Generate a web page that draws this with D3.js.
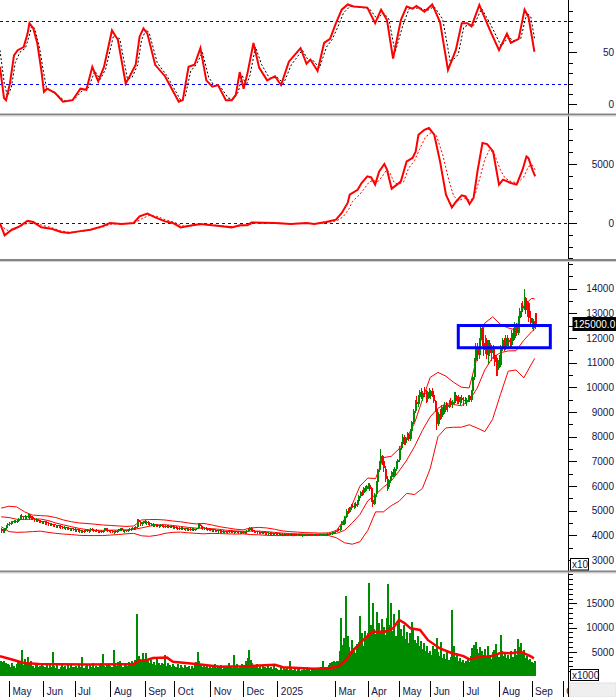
<!DOCTYPE html>
<html><head><meta charset="utf-8">
<script src="https://cdn.jsdelivr.net/npm/d3@7"></script>
<style>
html,body{margin:0;padding:0;background:#fff;}
svg{display:block;font-family:"Liberation Sans",Arial,sans-serif;}
</style></head><body>
<svg id="chart" width="616" height="697"></svg>
<script>
// ---------------- DATA ----------------
const firstDay = -5; // trading-day index of the first candle (May 2024 first session = 0)
const monthStarts = [0,22,42,65,87,106,129,150,172,209,230,250,270,291,314,335,355];
const monthLabels = ["May","Jun","Jul","Aug","Sep","Oct","Nov","Dec","2025","Mar","Apr","May","Jun","Jul","Aug","Sep","Oct"];

// [open, high, low, close] (axis units, x10)
const candles = [
[4250,4300,4150,4180],[4180,4250,4120,4150],[4150,4300,4140,4280],[4280,4420,4260,4400],[4400,4480,4380,4450],
[4450,4520,4420,4500],[4500,4560,4470,4540],[4540,4600,4500,4560],[4560,4620,4530,4580],[4580,4640,4550,4600],[4600,4620,4550,4580],[4580,4700,4570,4680],[4680,4820,4660,4800],[4800,4850,4720,4750],[4750,4800,4700,4780],[4780,4830,4720,4740],[4740,4800,4700,4790],[4790,4860,4760,4820],[4820,4850,4680,4700],[4700,4780,4680,4760],[4760,4800,4660,4680],[4680,4720,4600,4620],[4620,4700,4600,4660],[4660,4680,4560,4580],[4580,4640,4540,4600],[4600,4620,4520,4540],[4540,4600,4500,4560],
[4560,4600,4480,4500],[4500,4560,4470,4540],[4540,4560,4460,4480],[4480,4520,4420,4440],[4440,4500,4420,4470],[4470,4490,4400,4420],[4420,4460,4380,4440],[4440,4460,4360,4380],[4380,4420,4340,4400],[4400,4420,4330,4350],[4350,4400,4320,4380],[4380,4400,4310,4330],[4330,4370,4290,4310],[4310,4360,4280,4340],[4340,4350,4270,4290],[4290,4330,4250,4300],[4300,4320,4240,4260],[4260,4300,4230,4280],[4280,4300,4220,4240],[4240,4280,4200,4260],
[4260,4280,4190,4200],[4200,4260,4180,4240],[4240,4260,4170,4180],[4180,4220,4150,4200],[4200,4220,4140,4160],[4160,4200,4130,4190],[4190,4210,4150,4170],[4170,4230,4160,4220],[4220,4240,4170,4180],[4180,4210,4140,4200],[4200,4280,4190,4260],[4260,4280,4200,4210],[4210,4240,4170,4190],[4190,4230,4160,4220],[4220,4240,4180,4190],[4190,4200,4130,4150],[4150,4190,4120,4180],[4180,4200,4140,4160],[4160,4210,4150,4200],[4200,4300,4190,4280],[4280,4300,4200,4220],[4220,4250,4170,4190],[4190,4230,4160,4210],
[4210,4230,4150,4170],[4170,4200,4120,4140],[4140,4180,4100,4160],[4160,4200,4140,4190],[4190,4220,4150,4170],[4170,4250,4160,4240],[4240,4300,4220,4280],[4280,4290,4200,4210],[4210,4240,4160,4180],[4180,4220,4150,4200],[4200,4230,4170,4190],[4190,4240,4180,4230],[4230,4280,4210,4250],[4250,4300,4230,4280],[4280,4320,4250,4300],[4300,4340,4260,4280],[4280,4360,4270,4340],[4340,4660,4330,4620],[4620,4660,4500,4520],[4520,4560,4420,4450],[4450,4520,4430,4500],[4500,4600,4480,4580],
[4580,4620,4500,4520],[4520,4560,4470,4540],[4540,4560,4460,4480],[4480,4520,4420,4440],[4440,4480,4400,4460],[4460,4480,4390,4410],[4410,4460,4390,4440],[4440,4460,4380,4400],[4400,4430,4360,4380],[4380,4420,4350,4400],[4400,4440,4380,4420],[4420,4440,4360,4380],[4380,4410,4340,4360],[4360,4400,4340,4390],[4390,4410,4350,4370],[4370,4400,4330,4350],[4350,4390,4320,4380],[4380,4400,4340,4360],[4360,4380,4300,4320],
[4320,4360,4290,4340],[4340,4360,4280,4300],[4300,4330,4260,4280],[4280,4320,4260,4310],[4310,4330,4270,4290],[4290,4320,4250,4300],[4300,4310,4240,4260],[4260,4300,4230,4280],[4280,4300,4230,4250],[4250,4290,4220,4270],[4270,4290,4220,4240],[4240,4280,4210,4260],[4260,4280,4210,4230],[4230,4270,4200,4250],[4250,4300,4240,4290],[4290,4510,4280,4460],[4460,4480,4350,4370],[4370,4400,4300,4320],[4320,4350,4270,4290],[4290,4330,4260,4310],[4310,4320,4250,4270],[4270,4300,4230,4250],[4250,4290,4220,4270],
[4270,4280,4200,4220],[4220,4260,4190,4240],[4240,4250,4180,4200],[4200,4240,4170,4220],[4220,4230,4160,4180],[4180,4220,4150,4200],[4200,4220,4150,4170],[4170,4210,4140,4190],[4190,4200,4130,4150],[4150,4190,4120,4170],[4170,4190,4120,4140],[4140,4180,4110,4160],[4160,4200,4140,4190],[4190,4210,4140,4160],[4160,4190,4120,4140],[4140,4180,4110,4170],[4170,4190,4130,4150],[4150,4180,4120,4160],[4160,4180,4110,4130],[4130,4170,4100,4150],[4150,4170,4110,4130],
[4130,4160,4100,4140],[4140,4170,4110,4120],[4120,4200,4110,4180],[4180,4240,4160,4220],[4220,4350,4200,4300],[4300,4320,4200,4220],[4220,4240,4160,4180],[4180,4200,4130,4150],[4150,4190,4120,4170],[4170,4180,4110,4130],[4130,4160,4090,4140],[4140,4150,4090,4110],[4110,4150,4080,4130],[4130,4140,4080,4100],[4100,4140,4070,4120],[4120,4130,4070,4090],[4090,4130,4060,4110],[4110,4120,4060,4080],[4080,4120,4060,4100],[4100,4110,4050,4070],[4070,4110,4050,4090],[4090,4100,4050,4070],
[4070,4100,4040,4080],[4080,4100,4050,4060],[4060,4090,4040,4070],[4070,4080,4030,4050],[4050,4080,4030,4060],[4060,4070,4020,4040],[4040,4070,4020,4050],[4050,4060,4020,4040],[4040,4060,4010,4050],[4050,4060,4020,4030],[4030,4060,4020,4050],[4050,4060,4020,4040],[4040,4050,4010,4030],[4030,4060,4020,4050],[4050,4060,4020,4040],[4040,4050,4000,4030],[4030,4050,3980,4040],[4040,4060,4020,4050],[4050,4060,4020,4030],[4030,4050,4020,4040],[4040,4060,4030,4050],[4050,4060,4020,4040],[4040,4050,4020,4030],[4030,4050,4020,4040],[4040,4060,4030,4050],[4050,4060,4030,4040],[4040,4050,4020,4030],[4030,4050,4020,4040],[4040,4060,4030,4050],[4050,4060,4030,4040],[4040,4060,4030,4050],[4050,4070,4040,4060],[4060,4080,4040,4050],[4050,4080,4040,4070],[4070,4100,4050,4090],[4090,4130,4070,4110],[4110,4150,4090,4140],
[4140,4200,4120,4180],[4180,4260,4160,4240],[4240,4300,4200,4220],[4220,4400,4210,4380],[4380,4560,4360,4520],[4520,4600,4450,4480],[4480,4800,4470,4760],[4760,5050,4740,5000],[5000,5100,4900,4950],[4950,5150,4930,5100],[5100,5250,5050,5200],[5200,5320,5150,5180],[5180,5300,5120,5280],[5280,5350,5150,5200],[5200,5420,5180,5380],[5380,5650,5360,5600],[5600,5800,5550,5750],[5750,5850,5650,5700],[5700,5950,5680,5900],[5900,6000,5800,5850],[5850,6050,5820,5980],
[5980,6100,5900,6050],[6050,6100,5850,5900],[5900,5950,5400,5450],[5450,5500,5200,5300],[5300,5700,5250,5650],[5650,6200,5600,6150],[6150,6700,6100,6650],[6650,7000,6600,6900],[6900,7500,6850,7200],[7200,7250,6900,7000],[7000,7100,6600,6700],[6700,6800,6200,6300],[6300,6400,5850,5950],[5950,6300,5900,6250],[6250,6400,6150,6350],[6350,6600,6300,6550],[6550,6700,6400,6450],[6450,6750,6400,6700],[6700,7000,6650,6950],[6950,7100,6850,7050],
[7050,7600,7000,7550],[7550,7800,7500,7700],[7700,8100,7650,8000],[8000,8050,7700,7750],[7750,8000,7700,7950],[7950,8200,7900,8100],[8100,8150,7850,7900],[7900,8300,7880,8250],[8250,8650,8200,8600],[8600,9100,8550,9050],[9050,9500,9000,9400],[9400,9650,9200,9300],[9300,9700,9250,9600],[9600,9900,9500,9800],[9800,9950,9550,9600],[9600,9850,9500,9750],[9750,10000,9650,9700],[9700,9900,9400,9500],[9500,9850,9450,9800],[9800,9950,9600,9650],
[9650,9900,9550,9850],[9850,9950,9650,9700],[9700,9800,9400,9450],[9450,9500,9050,9100],[9100,9150,8300,8500],[8500,9000,8450,8900],[8900,9100,8700,8800],[8800,9300,8750,9200],[9200,9300,8900,9000],[9000,9400,8950,9300],[9300,9400,9100,9200],[9200,9350,9050,9300],[9300,9500,9200,9450],[9450,9550,9250,9300],[9300,9500,9200,9400],[9400,9800,9350,9700],[9700,9800,9400,9450],[9450,9650,9350,9600],[9600,9700,9350,9400],[9400,9600,9300,9550],[9550,9700,9400,9450],
[9450,9600,9300,9500],[9500,9600,9350,9400],[9400,9550,9300,9500],[9500,9700,9450,9650],[9650,9700,9450,9500],[9500,9900,9450,9850],[9850,10500,9800,10400],[10400,11200,10350,11100],[11100,11800,11000,11600],[11600,11800,11100,11300],[11300,12000,11200,11900],[11900,12500,11800,12400],[12400,12500,11700,11800],[11800,12000,11300,11500],[11500,12100,11400,11900],[11900,12000,11200,11300],[11300,11900,11000,11800],[11800,11900,11300,11400],[11400,11700,11100,11600],[11600,11700,11200,11300],[11300,11500,10900,11000],[11000,11300,10500,10700],[10700,11200,10500,11100],
[11100,11300,10800,10900],[10900,11700,10850,11600],[11600,12000,11500,11900],[11900,12000,11500,11600],[11600,12100,11550,12000],[12000,12100,11700,11800],[11800,12000,11600,11900],[11900,12000,11600,11700],[11700,12300,11650,12200],[12200,12400,11900,12000],[12000,12650,11950,12500],[12500,12600,12100,12200],[12200,12900,12150,12800],[12800,13200,12700,13100],[13100,13400,12900,13300],[13300,13500,13100,13200],[13200,14000,13150,13600],[13600,13650,13000,13100],[13100,13500,12900,13400],[13400,13450,12700,12800],[12800,13100,12500,12600],
[12600,12800,12400,12700],[12700,12750,12300,12400],[13000,13000,12400,12500]
];

// daily volume (x1000)
const volumes = [
3200,2800,3000,2600,2400,
2200,1800,2600,2000,1700,2400,3000,2800,5300,2200,3500,2600,3900,2400,3200,2000,1700,2300,2600,1800,2100,2500,
2000,1800,2200,1600,2400,1900,5000,2100,1700,2300,1500,1900,2600,1800,2000,1400,2200,1700,2500,1900,
1800,2100,1600,2300,1900,3900,1700,2000,2400,1500,2200,1800,2600,1600,2100,1900,2300,2700,4600,2000,1800,2500,2200,
2100,1900,5300,2400,2000,2800,3100,2200,1900,2600,2300,2000,2900,2500,3200,2700,3400,12800,4200,3500,3000,4800,
3600,4800,3100,2700,3300,2500,2900,2300,3800,2600,2200,2600,2400,4300,2000,2600,2300,1900,2500,
2100,1800,2400,1700,2200,1900,1600,2300,1800,2000,1500,2100,1700,2500,2900,5000,3000,2200,1900,2400,1800,2000,1600,
2200,1700,1900,2400,1600,2000,1800,2300,1500,2100,1700,1900,2600,1800,1600,4300,1900,2500,1700,2000,2400,
2300,1900,3100,3800,5300,3400,2600,2200,1800,2400,1700,2000,1500,2200,1800,1600,2100,1700,1900,1500,2000,1600,
1500,1300,1800,1200,1600,1400,1900,1300,3000,1500,1200,1700,1100,1400,1600,1000,1300,1500,1200,1800,1400,1100,1600,1300,1500,1200,1700,1400,1900,3000,1600,1400,1800,2200,2600,2900,3200,
2800,3200,3000,5200,12000,6500,7800,16500,8200,6000,5200,7400,5800,4800,6600,7100,12300,8800,6200,9400,7800,
8800,19300,10500,15000,9800,8600,13300,10900,9200,11800,10200,8500,12000,19100,10600,15000,9400,12900,8300,10800,
13600,9800,8200,10500,7600,9100,6800,8900,11200,9600,7400,6800,8300,6100,7200,5600,6900,5100,6300,4800,
5200,4400,6100,5500,7800,4900,4200,7100,3800,4600,3500,5200,3300,4000,13700,6200,3900,4700,3200,3700,2800,
3400,2600,3100,3800,2900,4200,5800,6400,7100,5600,4800,6000,5200,4300,5500,3900,6100,4400,3600,4900,5300,6700,4500,
3900,8500,5200,4100,4800,3700,4400,3500,5100,4000,5600,4300,7600,5900,6800,4700,5300,3800,4200,3300,3600,
2800,2600,3200
];

// Bollinger bands sampled on trading-day indices
const bandIdx = [-5,0,5,10,15,20,25,30,35,40,45,50,55,60,65,70,75,80,85,90,95,100,105,110,115,120,125,130,135,140,145,150,155,160,165,170,175,180,185,190,195,200,205,210,215,220,225,230,235,240,245,250,255,260,265,270,275,280,285,290,295,300,305,310,315,320,325,330,335,337];
const bandUpper = [5100,5180,5150,4950,4820,4800,4780,4720,4620,4550,4500,4480,4450,4420,4400,4380,4360,4380,4620,4640,4640,4620,4580,4550,4500,4460,4480,4420,4350,4300,4250,4220,4300,4320,4300,4250,4180,4150,4130,4110,4100,4090,4100,4200,4650,5250,6000,6320,6300,7150,7200,7500,7950,8550,9500,10400,10600,10450,10200,10000,9970,11200,12600,12850,12550,12400,12320,13300,13600,13580];
const bandMiddle = [4750,4720,4650,4640,4660,4660,4600,4500,4420,4350,4280,4230,4210,4200,4210,4210,4220,4240,4300,4370,4420,4430,4400,4360,4320,4290,4290,4270,4240,4200,4180,4160,4170,4170,4150,4120,4090,4070,4060,4050,4045,4045,4050,4080,4200,4500,4850,5400,5650,5950,6200,6600,7050,7600,8250,8800,9150,9330,9300,9250,9450,9950,10700,11200,11400,11470,11480,11900,12250,12360];
const bandLower = [4350,4150,4120,4130,4150,4170,4120,4080,4050,4030,4000,3990,3990,3990,4010,4030,4060,4080,3980,3960,4000,4080,4120,4130,4100,4080,4060,4080,4070,4060,4050,4060,4030,4020,4000,3990,3990,3990,3990,3990,3995,4000,3990,3900,3700,3640,3740,4200,4950,4950,5200,5380,5700,5650,5900,6700,8000,8350,8380,8380,8480,8350,8200,8700,9700,10650,10700,10380,10950,11170];

// oscillator (0-100) and its signal, [day, value]
const rsiLine = [[-5.8,36],[-3.2,6],[-1.9,4],[0.6,20],[3.2,47],[5.6,52],[9.4,55],[11.9,68],[13.1,78],[15.6,73],[18.1,59],[20.7,33],[22.4,12],[24.4,15],[29.5,11],[34.6,2.5],[40.8,4],[45.8,15],[49.6,14],[53.4,36],[57.2,22],[60.9,36],[66,71],[69.8,62],[74.8,20],[77.4,27],[81.2,38],[83.7,65],[86.2,73],[88.7,68],[93.7,38],[100,27],[108.8,2.5],[111.4,4],[115.1,36],[118.9,38],[122.7,54],[126.5,23],[130.3,17],[134,18.5],[139,4],[142.8,4],[145.4,9],[147.9,31],[150.4,15],[152.9,30],[156.7,59],[160.4,35],[165.5,23],[170.5,27],[174.4,18.5],[179.4,41],[186.9,54],[190.7,39],[193.2,43],[197.8,32],[202,59],[205.8,63],[209.6,78],[213.3,91],[217.1,96],[220.9,94],[229.7,93],[234.7,78],[238.5,91],[242.3,81],[246.2,44],[251.2,81],[254.9,94],[258.7,92],[261.2,94.5],[266.3,89],[271.3,96],[276.3,79],[281.4,33],[286.4,52],[290.2,78],[293.8,78],[296.5,75],[301.5,95.5],[307.8,73],[314.1,52],[319.2,68],[321.7,59],[326.7,63],[330.5,91],[333,84],[336.8,50.5]];
const rsiSignal = [[-5.8,52],[-3,20],[-1,8],[1.5,16],[4,40],[7,50],[10.5,54],[13,66],[14.5,75],[16.5,73],[19.5,55],[22,32],[24,16],[27,13],[31,9],[36,3],[42,5],[47,13],[51,16],[55,32],[58.5,24],[62,34],[67,66],[71,63],[76,24],[79,26],[82.5,38],[85,62],[88,72],[90,68],[95,40],[101,28],[110,4],[113,8],[116.5,32],[120,38],[124,50],[128,26],[131.5,18],[135.5,17],[140.5,6],[144,5],[147,12],[149.5,28],[152,18],[154.5,28],[158,55],[162,38],[167,25],[172,26],[176,20],[181,38],[188,52],[192,42],[195,42],[199,35],[203.5,55],[207,62],[211,75],[214.5,88],[218.5,94],[222,94],[231,92],[236,82],[240,88],[243.5,82],[247.5,50],[252.5,76],[256.5,92],[260,92],[263,93],[268,90],[272.5,94],[278,82],[283,40],[288,48],[291.5,74],[295,77],[298,76],[303,92],[309,76],[315.5,56],[320.5,65],[323,61],[328,63],[332,88],[334.5,84],[337,62]];
const rsiLevels = [20, 80];

// MACD-type oscillator and its signal, [day, value]
const macdLine = [[-5.8,0],[-2.8,-1050],[1.8,-570],[6.8,-290],[11.9,190],[15.6,80],[20.7,-370],[26.9,-480],[33.3,-760],[38.3,-850],[44.6,-710],[52.2,-570],[59.6,-290],[64.7,0],[72.3,-85],[79.9,0],[83.7,560],[88.7,790],[93.7,475],[100,135],[105,0],[110,-370],[117.6,-200],[122.7,-85],[130.3,-200],[137.8,-290],[142.8,-370],[147.9,-200],[152.9,-200],[155.4,50],[170.5,0],[180.6,-85],[190.7,0],[195.7,-85],[203.2,85],[209.6,280],[213.3,850],[217.1,1700],[218.4,2400],[223.5,2820],[226,3390],[229.7,3950],[232.2,3860],[234.7,3250],[237.3,4370],[240.6,5000],[242.3,4520],[245.3,2910],[248.7,3250],[251.2,3530],[254.9,5220],[258.7,5510],[260.7,6070],[262.5,7480],[266.3,7900],[269.2,8050],[272.6,7480],[276.3,5220],[280.1,2400],[283.9,1320],[286.4,1780],[290.2,2340],[292.7,2250],[295.2,1610],[297.8,2120],[300.3,4370],[303.5,6780],[306.5,6690],[310.3,6070],[314.1,3250],[316.7,3670],[321.7,3390],[325.4,3250],[329.2,4520],[331.7,5640],[333,5500],[335.5,4520],[337.3,3950]];
const macdSignal = [[-5.8,-200],[0,-700],[5,-450],[10,-100],[15,50],[20,-150],[27,-380],[33,-650],[39,-800],[45,-740],[52,-600],[60,-350],[65,-100],[72,-60],[80,-20],[85,350],[90,650],[95,560],[100,280],[106,60],[111,-250],[118,-240],[123,-120],[130,-170],[138,-260],[143,-330],[148,-250],[153,-200],[157,-20],[170,0],[181,-60],[190,-20],[196,-60],[204,40],[210,180],[214,500],[218,1200],[220,1800],[225,2450],[228,2950],[231,3500],[234,3600],[236,3450],[239,3900],[242,4500],[244,4300],[247,3400],[250,3300],[253,3500],[256,4600],[260,5300],[263,6200],[267,7300],[271,7700],[274,7400],[278,5800],[282,3600],[285,2300],[288,1900],[292,2100],[296,1900],[299,2500],[302,3900],[305,5400],[308,6200],[311,5900],[315,4500],[318,3800],[322,3500],[326,3400],[330,3900],[333,4800],[335.5,4900],[337.3,4500]];

// volume moving average, [day, value]
const volMA = [[-5.8,4100],[1.9,3400],[9.6,2700],[19.2,2500],[32.7,2450],[51.9,2400],[71,2450],[79.9,2500],[83.7,3150],[88.5,3300],[92.3,3700],[101.3,3800],[105.1,2950],[119.9,2500],[135.3,1900],[150.4,2000],[170.5,2300],[175.6,1800],[195.5,1500],[205.8,1650],[210.9,1900],[215.9,3300],[220.9,5400],[228.2,7800],[233.3,9150],[241,9150],[246.2,9850],[250,11600],[253.7,10900],[257.4,9850],[263.5,9500],[268.6,7400],[276.3,5700],[284,4700],[291.4,4100],[295.2,3450],[300,3850],[309,4100],[315.4,4800],[321.8,4700],[328,5000],[334.2,4100],[336.5,3650]];

// highlighted consolidation box
const boxDays = [288, 347];
const boxPrices = [11600, 12500];
const lastPrice = 125000.0;

// axis ticks
const rsiMajor = [0, 50];
const rsiMinor = [10,20,30,40,60,70,80,90];
const macdMajor = [0, 5000];
const macdMinor = [-3000,-2000,-1000,1000,2000,3000,4000,6000,7000,8000];
const priceMajor = [3000,4000,5000,6000,7000,8000,9000,10000,11000,12000,13000,14000];
const priceMinor = [3500,4500,5500,6500,7500,8500,9500,10500,11500,12500,13500,14500,15000];
const volMajor = [5000,10000,15000];
const volMinor = [1000,2000,3000,4000,6000,7000,8000,9000,11000,12000,13000,14000,16000,17000,18000,19000,20000,21000];

// ---------------- DRAW ----------------
const svg = d3.select('#chart');
const W = 616, H = 697, axisX = 568.5, labelX = 614, plotR = 568;
const GREEN = '#008c00', RED = '#ff0000', BLUE = '#0000ff', LABEL = '#14144a';

const x = d3.scaleLinear().domain([0, 355]).range([9, 562.8]);
const yR = d3.scaleLinear().domain([0, 100]).range([104.3, 0.3]);
const yM = d3.scaleLinear().domain([0, 5000]).range([223, 164]);
const yP = d3.scaleLinear().domain([3000, 14000]).range([560, 288.5]);
const yV = d3.scaleLinear().domain([0, 15000]).range([676, 603.4]);

const panels = [
  {id:'c1', top:0, bottom:114},
  {id:'c2', top:117, bottom:259.5},
  {id:'c3', top:262.5, bottom:571},
  {id:'c4', top:574, bottom:680}
];
const defs = svg.append('defs');
panels.forEach(p => {
  defs.append('clipPath').attr('id', p.id).append('rect')
    .attr('x', 0).attr('y', p.top).attr('width', plotR).attr('height', p.bottom - p.top);
});
defs.append('clipPath').attr('id','cx').append('rect').attr('x',0).attr('y',680).attr('width',plotR).attr('height',17);

const line = (ys) => d3.line().x(d => x(d[0])).y(d => ys(d[1]));

// ---- Panel 1 : oscillator ----
const g1 = svg.append('g').attr('clip-path', 'url(#c1)');
g1.selectAll('line.lvl').data(rsiLevels).join('line')
  .attr('x1', 0).attr('x2', plotR).attr('y1', d => Math.round(yR(d)) + 0.5).attr('y2', d => Math.round(yR(d)) + 0.5)
  .attr('stroke', BLUE).attr('stroke-dasharray', '3,3');
g1.append('path').datum(rsiSignal).attr('d', line(yR)).attr('fill', 'none')
  .attr('stroke', '#000').attr('stroke-width', 1).attr('stroke-dasharray', '2,2');
g1.append('path').datum(rsiLine).attr('d', line(yR)).attr('fill', 'none')
  .attr('stroke', RED).attr('stroke-width', 2);

// ---- Panel 2 : MACD ----
const g2 = svg.append('g').attr('clip-path', 'url(#c2)');
g2.append('line').attr('x1', 0).attr('x2', plotR)
  .attr('y1', Math.round(yM(0)) + 0.5).attr('y2', Math.round(yM(0)) + 0.5)
  .attr('stroke', BLUE).attr('stroke-dasharray', '3,3');
g2.append('path').datum(macdSignal).attr('d', line(yM)).attr('fill', 'none')
  .attr('stroke', RED).attr('stroke-width', 1).attr('stroke-dasharray', '2,2');
g2.append('path').datum(macdLine).attr('d', line(yM)).attr('fill', 'none')
  .attr('stroke', RED).attr('stroke-width', 2);

// ---- Panel 3 : price ----
const g3 = svg.append('g').attr('clip-path', 'url(#c3)');
const bands = [bandUpper, bandMiddle, bandLower];
g3.selectAll('path.band').data(bands).join('path')
  .attr('d', vals => line(yP)(bandIdx.map((d, i) => [d, vals[i]])))
  .attr('fill', 'none').attr('stroke', RED).attr('stroke-width', 1);
const cx = (i) => Math.round(x(firstDay + i));
const col = d => d[3] >= d[0] ? GREEN : RED;
g3.selectAll('line.wick').data(candles).join('line')
  .attr('x1', (d, i) => cx(i) + 0.5).attr('x2', (d, i) => cx(i) + 0.5)
  .attr('y1', d => Math.round(yP(d[1]))).attr('y2', d => Math.round(yP(d[2])) + 1)
  .attr('stroke', col).attr('stroke-width', 1);
g3.selectAll('rect.body').data(candles).join('rect')
  .attr('x', (d, i) => cx(i)).attr('width', 2)
  .attr('y', d => Math.round(yP(Math.max(d[0], d[3]))))
  .attr('height', d => Math.max(1, Math.round(Math.abs(yP(d[0]) - yP(d[3])))))
  .attr('fill', col).attr('shape-rendering', 'crispEdges');
g3.append('rect')
  .attr('x', x(boxDays[0])).attr('width', x(boxDays[1]) - x(boxDays[0]))
  .attr('y', yP(boxPrices[1])).attr('height', yP(boxPrices[0]) - yP(boxPrices[1]))
  .attr('fill', 'none').attr('stroke', BLUE).attr('stroke-width', 3);

// ---- Panel 4 : volume ----
const g4 = svg.append('g').attr('clip-path', 'url(#c4)');
g4.selectAll('rect.vol').data(volumes).join('rect')
  .attr('x', (d, i) => Math.floor(x(firstDay + i) - 0.4)).attr('width', 2)
  .attr('y', d => Math.round(yV(d))).attr('height', d => Math.round(yV(0)) - Math.round(yV(d)))
  .attr('fill', GREEN).attr('shape-rendering', 'crispEdges');
g4.append('path').datum(volMA).attr('d', line(yV)).attr('fill', 'none')
  .attr('stroke', RED).attr('stroke-width', 2.5);

// ---- right axes ----
function yAxis(scale, major, minor, fmt) {
  const g = svg.append('g').attr('transform', `translate(${axisX},0)`)
    .attr('font-family', '"Liberation Sans",Arial,sans-serif').attr('font-size', 12);
  g.append('g').call(d3.axisRight(scale).tickValues(minor).tickSize(4.5).tickFormat(''))
    .call(s => s.select('.domain').remove());
  const m = g.append('g').call(d3.axisRight(scale).tickValues(major).tickSize(8).tickFormat(fmt))
    .call(s => s.select('.domain').remove());
  m.selectAll('text').attr('x', labelX - axisX).attr('text-anchor', 'end').attr('fill', LABEL);
  g.selectAll('line').attr('shape-rendering', 'crispEdges');
}
yAxis(yR, rsiMajor, rsiMinor, d3.format('d'));
yAxis(yM, macdMajor, macdMinor, d3.format('d'));
yAxis(yP, priceMajor, priceMinor, d3.format('d'));
yAxis(yV, volMajor, volMinor, d3.format('d'));

// axis vertical line
svg.append('line').attr('x1', axisX).attr('x2', axisX).attr('y1', 0).attr('y2', H)
  .attr('stroke', '#000').attr('stroke-width', 1);

// ---- bottom month axis ----
const gx = svg.append('g').attr('clip-path', 'url(#cx)');
const ax = gx.append('g').attr('transform', 'translate(0,681)')
  .attr('font-family', '"Liberation Sans",Arial,sans-serif').attr('font-size', 12)
  .call(d3.axisBottom(x).tickValues(monthStarts).tickSize(16).tickFormat((d, i) => monthLabels[i]));
ax.select('.domain').remove();
ax.selectAll('.tick line').attr('shape-rendering', 'crispEdges');
ax.selectAll('.tick text').attr('x', 3).attr('y', 14).attr('dy', 0).attr('text-anchor', 'start').attr('fill', LABEL);

// ---- panel separators ----
[115, 260.5, 572].forEach(yy => {
  svg.append('rect').attr('x', 0).attr('y', yy - 1.5).attr('width', W).attr('height', 2).attr('fill', '#858585');
  svg.append('rect').attr('x', 0).attr('y', yy + 0.5).attr('width', W).attr('height', 1).attr('fill', '#d4d4d4');
});

// ---- last price tag ----
const py = yP(lastPrice / 10);
svg.append('rect').attr('x', 572.5).attr('y', Math.round(py) - 9).attr('width', 44).attr('height', 14).attr('fill', '#000');
svg.append('text').attr('x', 573.5).attr('y', Math.round(py) + 2)
  .attr('fill', '#fff').attr('font-size', 10)
  .text(d3.format('.1f')(lastPrice));

// ---- multiplier tags ----
function tag(xx, yy, w, h, txt) {
  svg.append('rect').attr('x', xx).attr('y', yy).attr('width', w).attr('height', h)
    .attr('fill', '#fff').attr('stroke', '#000').attr('stroke-width', 1);
  svg.append('text').attr('x', xx + 1.5).attr('y', yy + h - 2).attr('font-size', 10).attr('fill', LABEL).text(txt);
}
tag(570.5, 558.5, 18, 11.5, 'x10');
tag(570.5, 669.5, 28, 11, 'x1000');

// grey corner block
svg.append('rect').attr('x', 570).attr('y', 683).attr('width', 46).attr('height', 14).attr('fill', '#efefef').attr('stroke', '#e2e2e2');
</script>
</body></html>
